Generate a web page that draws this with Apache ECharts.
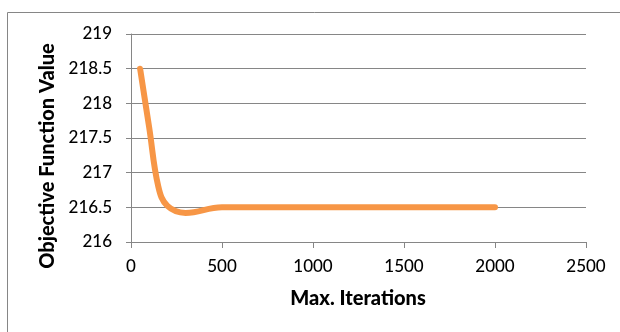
<!DOCTYPE html>
<html>
<head>
<meta charset="utf-8">
<script src="https://cdn.jsdelivr.net/npm/echarts@6/dist/echarts.min.js"></script>
<style>
  html, body { margin: 0; padding: 0; background: #fff; }
  #chart { width: 620px; height: 332px; }
</style>
</head>
<body>
<div id="chart"></div>
<script>
// Objective function value vs. maximum number of iterations
const iterations = [50, 100, 150, 200, 300, 500, 1000, 1500, 2000];
const objectiveValues = [218.5, 217.65, 216.8, 216.52, 216.42, 216.5, 216.5, 216.5, 216.5];
const xTicks = [0, 500, 1000, 1500, 2000, 2500];
const yTicks = [216, 216.5, 217, 217.5, 218, 218.5, 219];

const axisGray = '#868686';
const textFont = 'Lato, "Open Sans", sans-serif';

const chart = echarts.init(document.getElementById('chart'), null, { renderer: 'canvas' });

chart.setOption({
  animation: false,
  backgroundColor: '#fff',
  grid: { left: 131, right: 34, top: 34, bottom: 90, containLabel: false },
  xAxis: {
    type: 'value',
    min: xTicks[0],
    max: xTicks[xTicks.length - 1],
    interval: xTicks[1] - xTicks[0],
    axisLine: { show: true, lineStyle: { color: axisGray, width: 1 } },
    axisTick: { show: true, length: 6, lineStyle: { color: axisGray } },
    splitLine: { show: false },
    axisLabel: {
      color: '#000', fontFamily: textFont, fontSize: 17, fontWeight: 500, margin: 16,
      formatter: (v) => String(v)
    }
  },
  yAxis: {
    type: 'value',
    min: yTicks[0],
    max: yTicks[yTicks.length - 1],
    interval: 0.5,
    axisLine: { show: true, lineStyle: { color: axisGray, width: 1 } },
    axisTick: { show: true, length: 5, lineStyle: { color: axisGray } },
    splitLine: { show: true, lineStyle: { color: axisGray, width: 1 } },
    axisLabel: {
      color: '#000', fontFamily: textFont, fontSize: 17, fontWeight: 500, margin: 19,
      formatter: (v) => String(v)
    }
  },
  graphic: [
    {
      type: 'rect',
      shape: { x: 7.5, y: 12.5, width: 700, height: 400 },
      style: { fill: null, stroke: '#868686', lineWidth: 1 },
      silent: true,
      z: -1
    },
    {
      type: 'text',
      x: 358,
      y: 299,
      style: {
        text: 'Max. Iterations',
        font: '900 20px ' + textFont,
        fill: '#000',
        textAlign: 'center',
        textVerticalAlign: 'middle'
      }
    },
    {
      type: 'text',
      x: 48,
      y: 156,
      rotation: Math.PI / 2,
      style: {
        text: 'Objective Function Value',
        font: '900 20px ' + textFont,
        fill: '#000',
        textAlign: 'center',
        textVerticalAlign: 'middle'
      }
    }
  ],
  series: [{
    type: 'line',
    data: iterations.map((x, i) => [x, objectiveValues[i]]),
    smooth: 0.4,
    showSymbol: false,
    lineStyle: { color: '#F79646', width: 6, cap: 'round', join: 'round' }
  }]
});
</script>
</body>
</html>
